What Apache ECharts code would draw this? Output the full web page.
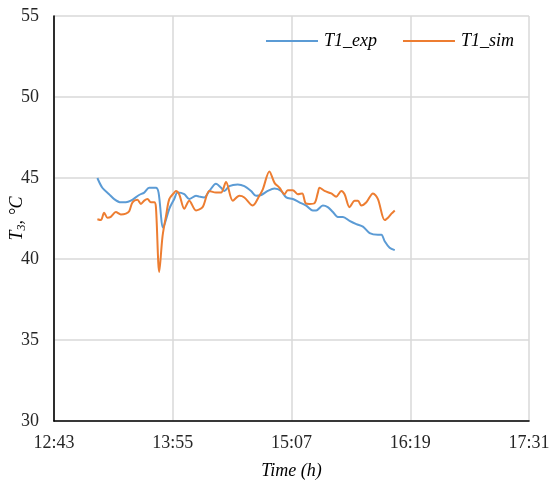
<!DOCTYPE html>
<html>
<head>
<meta charset="utf-8">
<script src="https://cdn.jsdelivr.net/npm/echarts@6/dist/echarts.min.js"></script>
<style>
  html, body { margin: 0; padding: 0; background: #fff; }
  #chart { width: 552px; height: 484px; }
</style>
</head>
<body>
<div id="chart"></div>
<script>
// Time axis is in minutes after 12:43
const START_MIN = 12 * 60 + 43;
const xTickStep = 72;
const yTicks = [30, 35, 40, 45, 50, 55];

// Measured temperature T1_exp: [minutes after start, °C]
const expTime = [26.3, 29.3, 33.4, 36.5, 40.5, 43.6, 46.6, 51.6, 54.7, 57.7, 61.8, 63.4, 66.2, 69.9, 72.9, 74.9, 79.0, 82.0, 86.1, 88.1, 91.1, 94.2, 98.2, 101.3, 103.3, 106.3, 111.4, 115.4, 119.5, 122.5, 125.6, 129.6, 133.7, 137.7, 140.8, 144.8, 148.8, 152.9, 156.9, 159.0, 163.0, 166.0, 169.1, 172.1, 175.2, 179.2, 183.3, 187.3, 191.4, 196.4, 198.5, 200.5, 203.5, 206.6];
const expTemp = [45.0, 44.4, 44.0, 43.7, 43.5, 43.5, 43.6, 43.95, 44.1, 44.4, 44.4, 44.1, 41.95, 43.1, 43.7, 44.1, 44.0, 43.7, 43.9, 43.85, 43.8, 44.2, 44.65, 44.4, 44.2, 44.5, 44.6, 44.5, 44.2, 43.9, 43.95, 44.2, 44.35, 44.2, 43.8, 43.7, 43.5, 43.3, 43.0, 43.0, 43.3, 43.2, 42.9, 42.6, 42.6, 42.35, 42.15, 42.0, 41.6, 41.5, 41.5, 41.1, 40.7, 40.55];

// Simulated temperature T1_sim: [minutes after start, °C]
const simTime = [26.3, 28.4, 30.4, 32.4, 34.4, 37.5, 40.5, 43.6, 45.6, 47.6, 50.6, 52.7, 54.7, 56.7, 58.7, 60.8, 61.8, 63.8, 65.8, 67.9, 69.9, 72.9, 73.9, 75.9, 79.0, 82.0, 86.1, 90.1, 94.2, 98.2, 101.3, 104.3, 108.4, 112.4, 115.4, 120.5, 124.5, 126.6, 130.6, 133.7, 136.7, 139.8, 141.7, 144.8, 147.8, 150.5, 152.5, 154.9, 158.0, 160.0, 161.0, 164.0, 168.1, 171.1, 174.2, 176.2, 179.2, 182.3, 184.3, 186.3, 189.4, 193.4, 196.4, 200.5, 202.5, 204.6, 206.6];
const simTemp = [42.45, 42.4, 42.85, 42.55, 42.6, 42.9, 42.75, 42.8, 42.95, 43.5, 43.65, 43.4, 43.6, 43.7, 43.5, 43.5, 43.2, 39.2, 41.4, 42.65, 43.7, 44.1, 44.2, 44.0, 43.1, 43.6, 43.0, 43.2, 44.2, 44.1, 44.1, 44.75, 43.6, 43.9, 43.8, 43.3, 43.9, 44.3, 45.4, 44.7, 44.4, 44.0, 44.25, 44.25, 44.0, 44.05, 43.45, 43.4, 43.45, 44.1, 44.4, 44.2, 44.05, 43.85, 44.2, 44.0, 43.2, 43.6, 43.6, 43.3, 43.5, 44.05, 43.7, 42.4, 42.55, 42.8, 43.0];

const pair = (xs, ys) => xs.map((x, i) => [x, ys[i]]);

function clock(m) {
  const t = START_MIN + Math.round(m);
  const h = Math.floor(t / 60), mm = t % 60;
  return h + ':' + (mm < 10 ? '0' : '') + mm;
}

const serif = '"Liberation Serif", "DejaVu Serif", serif';
const chart = echarts.init(document.getElementById('chart'));

chart.setOption({
  animation: false,
  backgroundColor: '#ffffff',
  grid: { left: 54, right: 23, top: 16, bottom: 63, containLabel: false, outerBoundsMode: 'none' },
  legend: {
    top: 27,
    right: 33,
    itemWidth: 52,
    itemHeight: 2,
    itemGap: 26,
    icon: 'rect',
    textStyle: { fontFamily: serif, fontStyle: 'italic', fontSize: 18, color: '#000', padding: [0, 0, 0, 1] },
    data: ['T1_exp', 'T1_sim']
  },
  xAxis: {
    type: 'value',
    min: 0,
    max: 288,
    interval: xTickStep,
    name: 'Time (h)',
    nameLocation: 'middle',
    nameGap: 41,
    nameMoveOverlap: false,
    nameTextStyle: { fontFamily: serif, fontStyle: 'italic', fontSize: 18, color: '#000' },
    axisLine: { show: true, lineStyle: { color: '#000', width: 1.6 } },
    axisTick: { show: false },
    axisLabel: { formatter: clock, margin: 13, fontFamily: serif, fontSize: 18, color: '#262626' },
    splitLine: { show: true, lineStyle: { color: '#d9d9d9', width: 1.5 } }
  },
  yAxis: {
    type: 'value',
    min: yTicks[0],
    max: yTicks[yTicks.length - 1],
    interval: 5,
    name: '{i|T}{s|3}{i|, °C}',
    nameLocation: 'middle',
    nameRotate: 90,
    nameGap: 26,
    nameMoveOverlap: false,
    nameTextStyle: {
      rich: {
        i: { fontFamily: serif, fontStyle: 'italic', fontSize: 18, color: '#000' },
        s: { fontFamily: serif, fontStyle: 'italic', fontSize: 12, color: '#000', padding: [9, 0, 0, 0] }
      }
    },
    axisLine: { show: true, lineStyle: { color: '#000', width: 1.6 } },
    axisTick: { show: false },
    axisLabel: { margin: 15, fontFamily: serif, fontSize: 18, color: '#262626' },
    splitLine: { show: true, lineStyle: { color: '#d9d9d9', width: 1.5 } }
  },
  series: [
    {
      name: 'T1_exp',
      type: 'line',
      data: pair(expTime, expTemp),
      smooth: 0.3,
      showSymbol: false,
      lineStyle: { color: '#5B9BD5', width: 2 },
      itemStyle: { color: '#5B9BD5' }
    },
    {
      name: 'T1_sim',
      type: 'line',
      data: pair(simTime, simTemp),
      smooth: 0.3,
      showSymbol: false,
      lineStyle: { color: '#ED7D31', width: 2 },
      itemStyle: { color: '#ED7D31' }
    }
  ]
});
</script>
</body>
</html>
